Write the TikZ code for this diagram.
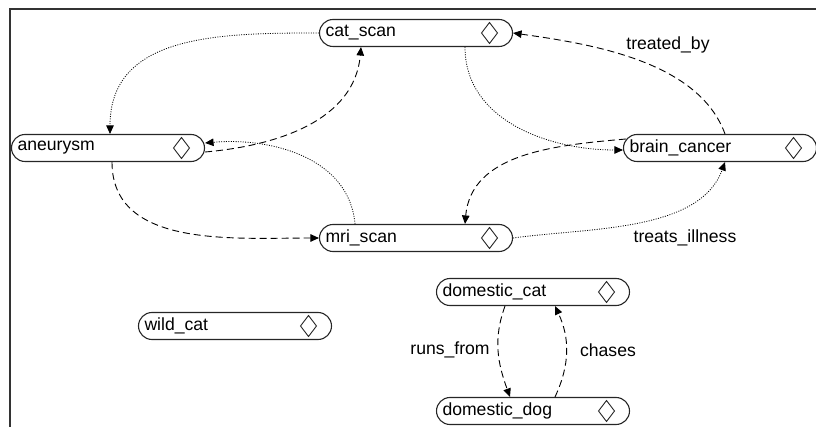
\documentclass[tikz,border=0pt]{standalone}
\usepackage{fontspec}
\setmainfont{Liberation Sans}
\usetikzlibrary{arrows.meta}

\begin{document}
\begin{tikzpicture}[x=1pt, y=1pt, font=\fontsize{17.6}{20}\selectfont,
	concept/.style={draw=black!85, line width=1.1pt, rounded corners=13.5pt,
		minimum width=193pt, minimum height=27pt, inner xsep=6pt, text width=181pt, align=left,
		path picture={\draw[line width=.9pt, sharp corners] ([xshift=-23pt]path picture bounding box.east)
			+(-8,0) -- +(0,10.5) -- +(8,0) -- +(0,-10.5) -- cycle;}},
	rel/.style={line width=.9pt, dash pattern=on 7pt off 4pt, -{Triangle[length=8.5pt,width=7.5pt]}},
	inst/.style={line width=.8pt, dash pattern=on 1pt off 1.4pt, -{Triangle[length=8.5pt,width=7.5pt]}},
	lbl/.style={inner sep=1pt}]
	\useasboundingbox (0,0) rectangle (816,-427);
	% frame
	\draw[line width=2pt, black!80] (10,-427) -- (10,-9) -- (816,-9);
	% concepts
	\node[concept] (cat)   at (416,-33)  {cat\_scan};
	\node[concept] (aneu)  at (108,-148) {aneurysm};
	\node[concept] (brain) at (720,-148) {brain\_cancer};
	\node[concept] (mri)   at (416,-238) {mri\_scan};
	\node[concept] (wild)  at (235,-326) {wild\_cat};
	\node[concept] (dcat)  at (533,-292) {domestic\_cat};
	\node[concept] (ddog)  at (533,-411) {domestic\_dog};
	% relations
	\draw[inst] (cat.west) to[out=180, in=90, looseness=1.1] ([xshift=2pt]aneu.north);
	\draw[rel]  ([yshift=-4pt]aneu.east) to[out=5, in=-95] ([xshift=-55pt]cat.south);
	\draw[inst] ([xshift=-61pt]mri.north) to[out=95, in=5] ([yshift=5pt]aneu.east);
	\draw[rel]  ([xshift=4pt]aneu.south) to[out=-90, in=180] (mri.west);
	\draw[inst] ([xshift=49pt]cat.south) to[out=-90, in=180] ([yshift=-2pt]brain.west);
	\draw[rel]  ([xshift=5pt]brain.north) to[out=110, in=-8, looseness=.85] (cat.east);
	\draw[rel]  ([xshift=3pt,yshift=9pt]brain.west) to[out=185, in=85] ([xshift=49pt]mri.north);
	\draw[inst] (mri.east) to[out=8, in=-110, looseness=.85] ([xshift=5pt]brain.south);
	\draw[rel]  ([xshift=-28pt]dcat.south) to[out=-110, in=110] ([xshift=-23pt]ddog.north);
	\draw[rel]  ([xshift=22pt]ddog.north) to[out=65, in=-65] ([xshift=22pt]dcat.south);
	% labels
	\node[lbl] (treatedby) at (668,-45)  {treated\_by};
	\node[lbl] (treats)    at (685,-238) {treats\_illness};
	\node[lbl] (runsfrom)  at (450,-350) {runs\_from};
	\node[lbl] (chases)    at (608,-350) {chases};
\end{tikzpicture}
\end{document}
